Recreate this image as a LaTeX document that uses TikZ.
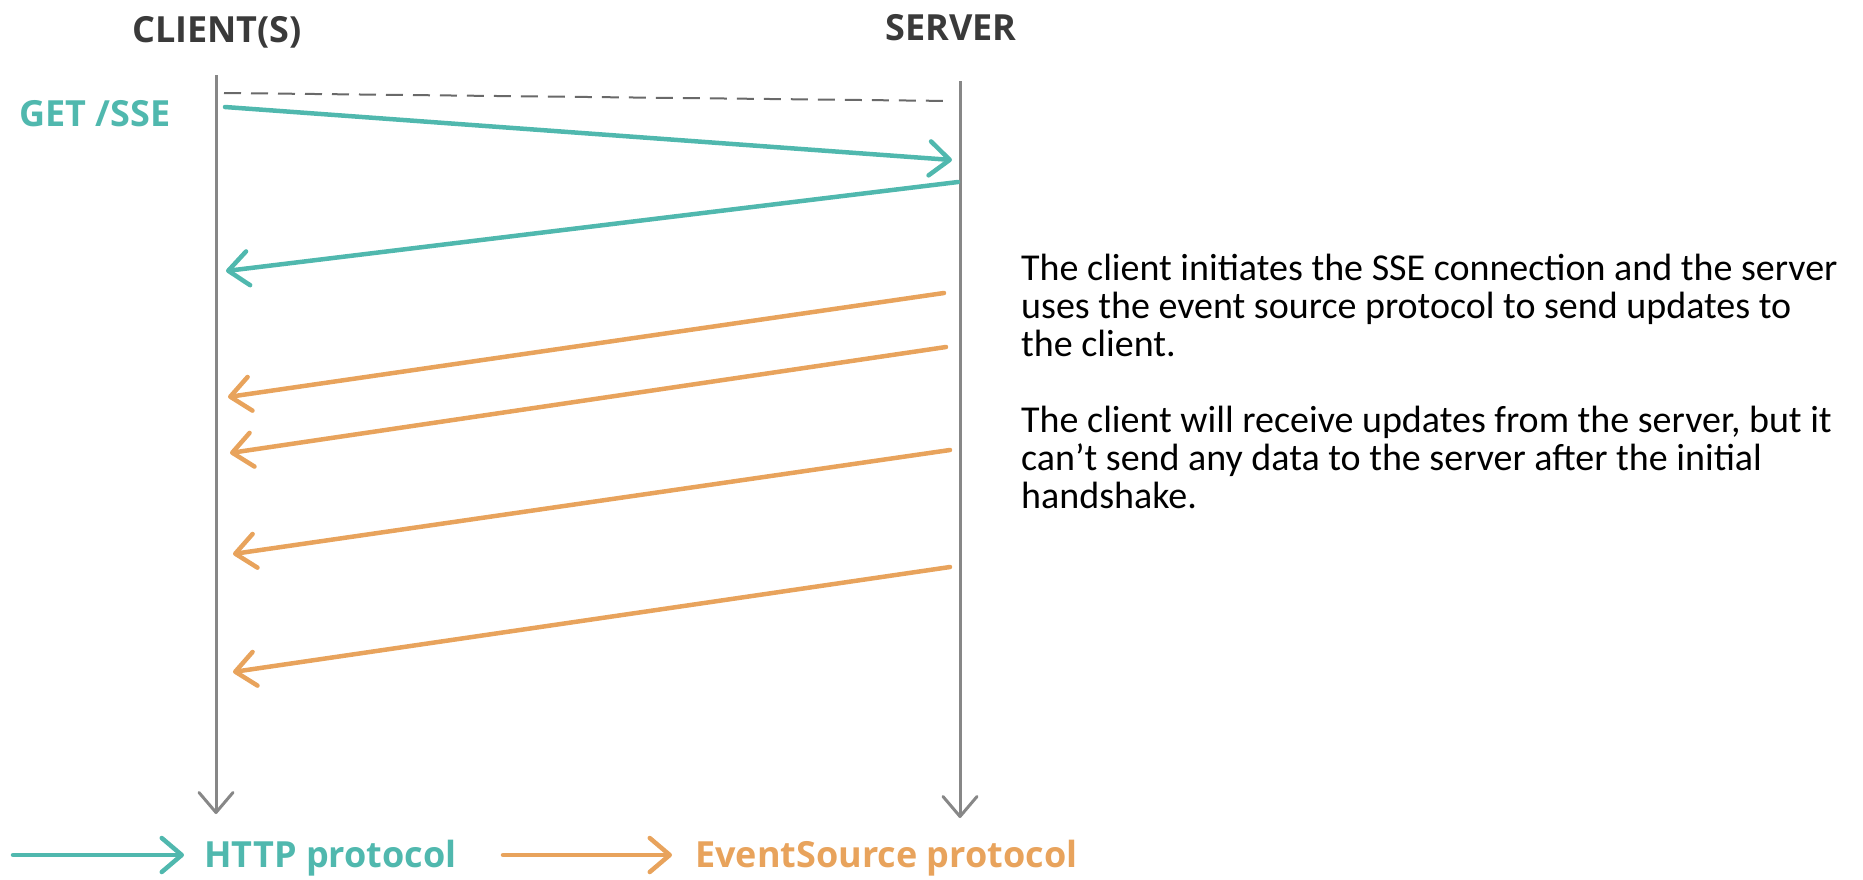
\documentclass[tikz,border=0pt]{standalone}
\usepackage{fontspec}
\usetikzlibrary{arrows.meta}
\newfontfamily\labelfont{Open Sans}
\newfontfamily\bodyfont{Carlito}
\definecolor{tealc}{RGB}{80,184,174}
\definecolor{orangec}{RGB}{232,163,92}
\definecolor{titlegray}{RGB}{58,58,58}
\definecolor{linegray}{RGB}{135,135,135}
\definecolor{dashgray}{RGB}{105,105,105}
\tikzset{
  lbl/.style={font=\labelfont\bfseries\fontsize{36}{40}\selectfont, inner sep=0pt},
  ttl/.style={lbl, text=titlegray, anchor=base},
  body/.style={font=\bodyfont\fontsize{38}{38}\selectfont, inner sep=0pt, anchor=base west},
  msg/.style={line width=4.5pt, line cap=round, -{Straight Barb[length=20pt,width=34pt,round]}},
  http/.style={msg, draw=tealc},
  evs/.style={msg, draw=orangec},
  life/.style={line width=3pt, draw=linegray, -{Straight Barb[length=20pt,width=34pt,round]}},
  hshake/.style={draw=dashgray, line width=2pt, dash pattern=on 17pt off 10pt}
}
\begin{document}
\begin{tikzpicture}[x=1pt,y=-1pt]
\useasboundingbox (0,0) rectangle (1863,879);
% titles
\node[ttl] (tc) at (217,42) {CLIENT(S)};
\node[ttl] (ts) at (951,40) {SERVER};
\node[lbl, text=tealc, anchor=base west] (get) at (19,126) {GET /SSE};
% lifelines
\coordinate (cl0) at (216,75);
\coordinate (cl1) at (216,814);
\coordinate (sv0) at (960,81);
\coordinate (sv1) at (960,818);
\draw[life] (cl0) -- (cl1);
\draw[life] (sv0) -- (sv1);
% handshake dashed line
\coordinate (d0) at (224,93);
\coordinate (d1) at (952,101);
\draw[hshake] (d0) -- (d1);
% HTTP messages
\coordinate (h1a) at (225,107);
\coordinate (h1b) at (952,160);
\coordinate (h2a) at (958,182);
\coordinate (h2b) at (226,271);
\draw[http] (h1a) -- (h1b);
\draw[http] (h2a) -- (h2b);
% EventSource messages
\coordinate (e1a) at (944,293);
\coordinate (e1b) at (228,397);
\coordinate (e2a) at (946,347);
\coordinate (e2b) at (230,453);
\coordinate (e3a) at (950,450);
\coordinate (e3b) at (233,554);
\coordinate (e4a) at (950,567);
\coordinate (e4b) at (233,672);
\draw[evs] (e1a) -- (e1b);
\draw[evs] (e2a) -- (e2b);
\draw[evs] (e3a) -- (e3b);
\draw[evs] (e4a) -- (e4b);
% explanation text
\node[body] (p1) at (1021,280) {The client initiates the SSE connection and the server};
\node[body] (p2) at (1021,318) {uses the event source protocol to send updates to};
\node[body] (p3) at (1021,356) {the client.};
\node[body] (p4) at (1021,432) {The client will receive updates from the server, but it};
\node[body] (p5) at (1021,470) {can’t send any data to the server after the initial};
\node[body] (p6) at (1021,508) {handshake.};
% legend
\coordinate (lt0) at (13,855);
\coordinate (lt1) at (184,855);
\draw[http] (lt0) -- (lt1);
\node[lbl, text=tealc, anchor=base west] (lh) at (204,867) {HTTP protocol};
\coordinate (lo0) at (503,855);
\coordinate (lo1) at (672,855);
\draw[evs] (lo0) -- (lo1);
\node[lbl, text=orangec, anchor=base west] (le) at (695,867) {EventSource protocol};
\end{tikzpicture}
\end{document}
